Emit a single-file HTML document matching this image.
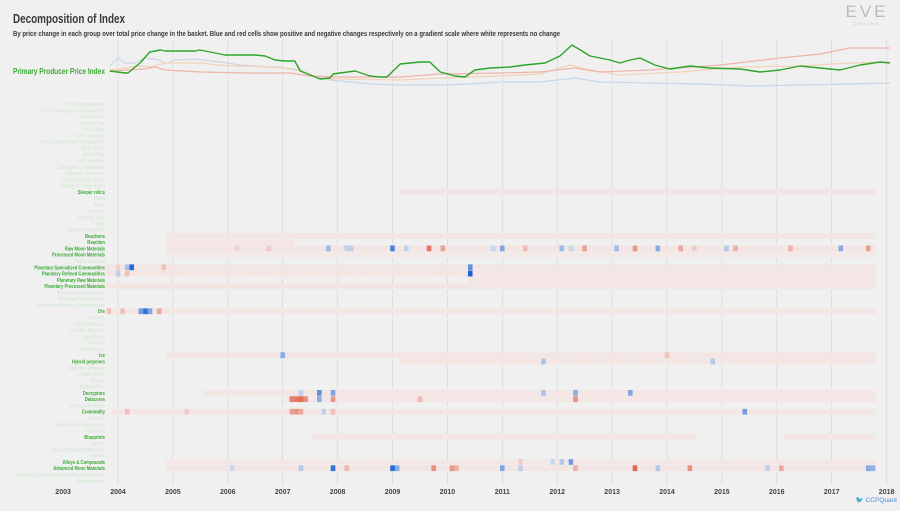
<!DOCTYPE html>
<html><head><meta charset="utf-8"><style>
html,body{margin:0;padding:0;background:#f0f0f0;}
body{width:900px;height:506px;overflow:hidden;position:relative;font-family:"Liberation Sans",sans-serif;}
svg text{font-family:"Liberation Sans",sans-serif;}
</style></head><body>
<svg id="chart" width="900" height="506" viewBox="0 0 900 506" xmlns="http://www.w3.org/2000/svg">
<rect width="900" height="506" fill="#f0f0f0"/>
<text x="13" y="23" font-size="13" font-weight="bold" fill="#3a3a3a" textLength="112" lengthAdjust="spacingAndGlyphs">Decomposition of Index</text>
<text x="13" y="36" font-size="7" font-weight="bold" fill="#3a3a3a" textLength="547" lengthAdjust="spacingAndGlyphs">By price change in each group over total price change in the basket. Blue and red cells show positive and negative changes respectively on a gradient scale where white represents no change</text>
<g>
<text x="867" y="17" font-size="17" fill="#bbb" text-anchor="middle" letter-spacing="3">EVE</text>
<text x="867" y="25" font-size="4" fill="#bbb" text-anchor="middle" letter-spacing="2">ONLINE</text>
</g>
<text x="13" y="74" font-size="8" font-weight="bold" fill="#3aaa35" textLength="92" lengthAdjust="spacingAndGlyphs">Primary Producer Price Index</text>
<g id="grid"></g><g id="lines"></g><g id="labels"></g><g id="cells"></g><g id="years"></g>
<g>
<text x="897" y="502" font-size="6.5" fill="#4a8fd0" text-anchor="end">&#x1F426; CCPQuant</text>
</g>
</svg>
<script>
const years=[2003,2004,2005,2006,2007,2008,2009,2010,2011,2012,2013,2014,2015,2016,2017,2018];
const rowNames=["Tech III subsystems","Tech III Subsystem Components","Tech II ships","Tech II drugs","Tech II Rigs","Tech II modules","Tech II construction components","Tech I ships","Tech I Rigs","Tech I modules","Subcapital components","Starbase structures","Special Edition Ships","Salvaged Components","Sleeper relics","Ships","Skills","Services","Security Tags","Rigs","Salvaged materials","Reactions","Reaction","Raw Moon Materials","Processed Moon Materials","Pilot's Services","Planetary Specialized Commodities","Planetary Refined Commodities","Planetary Raw Materials","Planetary Processed Materials","Planetary infrastructure","Planetary Commodities","Planetary Advanced Commodities","Ore","Orbitals","Officer Modules","Low-Sec Minerals","Ingredients","Implants","Ice Products","Ice","Hybrid polymers","High-Sec Minerals","Festival Ships","Drones","Deployables","Decryptors","Datacores","Contraband Items","Commodity","Charges","Capital Ship Components","Boosters","Blueprints","Apparel","Ancient Salvaged Materials","Ammo","Alloys & Compounds","Advanced Moon Materials","Advanced Capital Construction Components","Biochemicals"];
// active rows: [rowIndex, startMonth, endMonth, baseValue] months from Jan 2004
const activeRows=[[14,62,165,-0.09],[21,11,165,-0.08],[22,11,38,-0.08],[23,11,165,-0.09],[24,11,165,-0.06],[26,-2,165,-0.09],[27,-2,165,-0.08],[28,77,165,-0.08],[29,-2,165,-0.09],[33,-2,165,-0.08],[40,11,165,-0.09],[41,62,165,-0.08],[46,19,165,-0.08],[47,37,165,-0.08],[49,-1,165,-0.08],[53,43,126,-0.08],[53,146,165,-0.08],[57,11,165,-0.07],[58,11,165,-0.09]];
// spikes: [rowIndex, month, value]
const spikes=[[23,46,0.4],[23,50,0.25],[23,51,0.25],[23,60,0.8],[23,63,0.25],[23,68,-0.75],[23,71,-0.5],[23,82,0.2],[23,84,0.55],[23,89,-0.35],[23,97,0.4],[23,99,0.2],[23,102,-0.5],[23,109,0.4],[23,113,-0.55],[23,118,0.5],[23,123,-0.45],[23,126,-0.25],[23,133,0.3],[23,135,-0.4],[23,147,-0.4],[23,158,0.5],[23,164,-0.5],[23,33,-0.25],[23,26,-0.2],
[26,2,0.35],[26,3,0.95],[26,77,0.7],[26,0,-0.2],[26,10,-0.3],[27,0,0.25],[27,77,1.0],[27,2,-0.3],
[33,5,0.6],[33,6,0.9],[33,7,0.55],[33,9,-0.45],[33,-2,-0.3],[33,1,-0.3],
[40,36,0.5],[40,120,-0.3],[41,130,0.3],[41,93,0.35],
[46,44,0.7],[46,47,0.55],[46,40,0.25],[46,93,0.35],[46,100,0.5],[46,112,0.55],
[47,38,-0.7],[47,39,-0.75],[47,40,-0.8],[47,41,-0.6],[47,44,0.5],[47,47,-0.55],[47,100,-0.6],[47,66,-0.35],
[49,38,-0.5],[49,39,-0.55],[49,40,-0.45],[49,45,0.25],[49,47,-0.3],[49,137,0.6],[49,2,-0.3],[49,15,-0.25],
[57,95,0.2],[57,97,0.3],[57,99,0.6],[57,88,-0.25],
[58,25,0.2],[58,40,0.3],[58,47,0.9],[58,50,-0.35],[58,60,0.95],[58,61,0.5],[58,69,-0.6],[58,73,-0.55],[58,74,-0.4],[58,84,0.55],[58,88,0.25],[58,100,-0.4],[58,113,-0.85],[58,125,-0.6],[58,118,0.3],[58,145,-0.45],[58,142,0.25],[58,164,0.5],[58,165,0.45]];
// top index lines: decimal years and index values
const lineT_green=[2003.85,2004.13,2004.18,2004.40,2004.58,2004.77,2004.86,2005.40,2005.49,2005.68,2005.95,2006.50,2006.68,2006.86,2007.04,2007.22,2007.32,2007.59,2007.68,2007.86,2007.92,2008.04,2008.32,2008.59,2008.77,2008.90,2009.14,2009.50,2009.68,2009.87,2010.14,2010.32,2010.50,2010.78,2011.14,2011.41,2011.78,2012.05,2012.27,2012.42,2012.60,2012.96,2013.14,2013.33,2013.51,2013.78,2014.05,2014.42,2014.78,2015.33,2015.69,2016.06,2016.42,2016.79,2017.15,2017.52,2017.88,2018.06];
const lineV_green=[19,17,17,27,38,40,39,39,40,38,35,35,34,30,29,29,19,13,11,12,16,17,19,14,13,13,26,28,28,18,14,13,20,22,23,25,27,34,45,40,34,30,27,30,32,25,21,24,22,21,18,20,24,22,20,25,28,27];
const lineT_blue=[2003.85,2004.0,2004.13,2004.31,2004.49,2004.77,2004.86,2005.04,2005.40,2005.86,2006.22,2006.77,2007.04,2007.32,2007.59,2007.86,2008.04,2008.59,2009.14,2009.87,2010.41,2010.96,2011.69,2012.32,2012.78,2013.69,2014.60,2015.51,2016.42,2017.33,2018.06];
const lineV_blue=[24,32,27,27,32,30,26,30,31,28,25,23,22,20,14,10,9,6,5,5,6,8,8,12,8,7,6,4,5,6,7];
const lineT_red=[2003.85,2004.49,2004.67,2004.86,2005.49,2006.40,2007.13,2007.50,2008.04,2009.14,2009.87,2010.96,2011.69,2012.32,2012.78,2013.69,2014.97,2016.06,2016.79,2017.33,2018.06];
const lineV_red=[19,21,23,20,18,17,17,14,13,13,16,17,18,22,18,20,25,32,36,42,42];
const lineT_orange=[2003.85,2004.40,2004.58,2004.86,2005.49,2006.04,2006.95,2007.32,2007.68,2008.04,2009.14,2009.87,2010.96,2011.69,2012.23,2012.60,2013.14,2014.24,2015.33,2016.42,2017.33,2018.06];
const lineV_orange=[20,24,23,27,27,24,23,19,12,11,10,12,14,16,25,20,15,18,23,24,27,28];

const NS="http://www.w3.org/2000/svg";
const x0=118, pxYear=54.9, rowY0=104, rowH=6.28, monthW=pxYear/12;
function xYear(t){return x0+(t-2004)*pxYear;}
function xMonth(m){return x0+m*monthW;}
function yRow(i){return rowY0+i*rowH;}
function yIdx(v){return 90-v;}
function color(v){
  const a=Math.min(1,Math.abs(v));
  const base=[244,244,244];
  const tgt=v<0?[226,74,51]:[28,100,210];
  const c=base.map((b,k)=>Math.round(b+(tgt[k]-b)*a));
  return `rgb(${c[0]},${c[1]},${c[2]})`;
}
const grid=document.getElementById('grid');
years.slice(1).forEach(y=>{
  const l=document.createElementNS(NS,'line');
  
  
  l.setAttribute('x1',xYear(y));l.setAttribute('x2',xYear(y));
  l.setAttribute('y1',40);l.setAttribute('y2',485);
  l.setAttribute('stroke','#b8b8b8');l.setAttribute('stroke-width','0.6');l.setAttribute('stroke-dasharray','1,1');
  grid.appendChild(l);
});
const yg=document.getElementById('years');
years.forEach(y=>{
  const t=document.createElementNS(NS,'text');
  
  
  t.setAttribute('x',xYear(y));t.setAttribute('y',494);
  t.setAttribute('font-size','7');t.setAttribute('font-weight','bold');t.setAttribute('fill','#444');t.setAttribute('text-anchor','middle');
  t.textContent=y;yg.appendChild(t);
});
const active=new Set(activeRows.map(r=>r[0]));
const lg=document.getElementById('labels');
rowNames.forEach((n,i)=>{
  const t=document.createElementNS(NS,'text');
  
  
  t.setAttribute('x',0);t.setAttribute('y',0);
  t.setAttribute('transform','translate(105,'+(yRow(i)+2)+') scale(0.84,1)');
  t.setAttribute('font-size','5');t.setAttribute('font-weight','bold');t.setAttribute('text-anchor','end');
  t.setAttribute('fill',active.has(i)?'#3aaa35':'#d8e8d6');
  t.textContent=n;lg.appendChild(t);
});
const cg=document.getElementById('cells');
const spikeMap={};spikes.forEach(s=>{spikeMap[s[0]+'_'+s[1]]=s[2];});
activeRows.forEach(r=>{
  for(let m=r[1];m<=r[2];m++){
    const k=r[0]+'_'+m;const v=(k in spikeMap)?spikeMap[k]:r[3];
    const c=document.createElementNS(NS,'rect');
    
    
    c.setAttribute('x',xMonth(m)-monthW/2);c.setAttribute('y',yRow(r[0])-2.9);
    c.setAttribute('width',monthW+0.2);c.setAttribute('height',5.8);
    c.setAttribute('fill',color(v));cg.appendChild(c);
  }
});
const lines=document.getElementById('lines');
function drawLine(T,V,col,w,name){
  const p=document.createElementNS(NS,'polyline');
  
  
  p.setAttribute('points',T.map((t,i)=>xYear(t).toFixed(1)+','+yIdx(V[i]).toFixed(1)).join(' '));
  p.setAttribute('fill','none');p.setAttribute('stroke',col);p.setAttribute('stroke-width',w);p.setAttribute('stroke-linejoin','round');
  lines.appendChild(p);
}
drawLine(lineT_blue,lineV_blue,'#c8d8e8',1.2,'positive-line');
drawLine(lineT_orange,lineV_orange,'#f3d2b8',1.2,'orange-line');
drawLine(lineT_red,lineV_red,'#efb4aa',1.2,'negative-line');
drawLine(lineT_green,lineV_green,'#2ea52a',1.4,'index-line');
</script>
</body></html>
